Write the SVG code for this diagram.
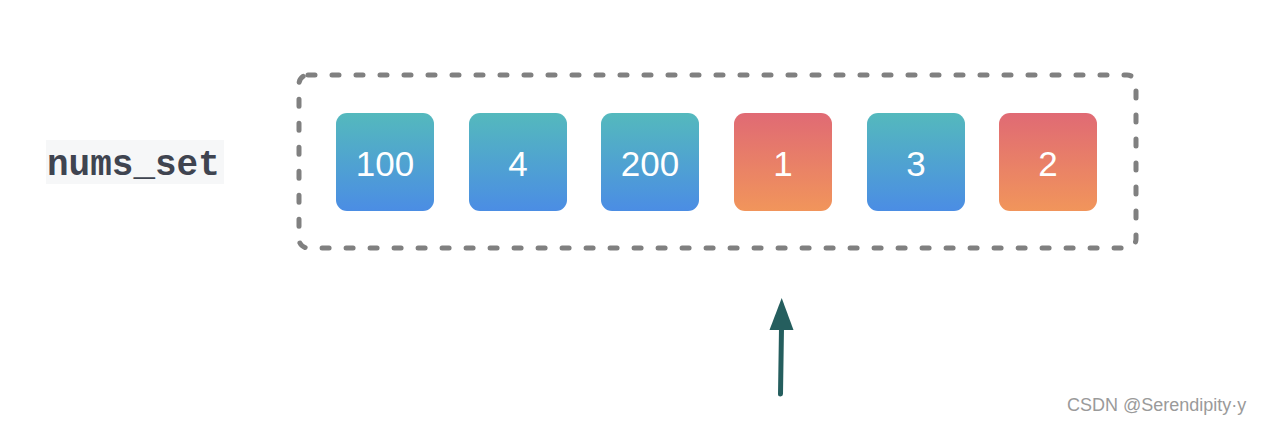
<svg xmlns="http://www.w3.org/2000/svg" width="1264" height="424" viewBox="0 0 1264 424">
<style>
.cell text{font-family:"Liberation Sans",Arial,sans-serif;font-size:35px;fill:#fff;text-anchor:middle}
.frame{fill:none;stroke:#808080;stroke-width:5;stroke-dasharray:7 17;stroke-linecap:round}
.label{font-family:"Liberation Mono","Courier New",monospace;font-size:36px;font-weight:bold;fill:#3f4450}
.wm{font-family:"Liberation Sans",Arial,sans-serif;font-size:18px;fill:#9a9a9a}
</style>
<defs>
<linearGradient id="gBlue" x1="0" y1="0" x2="0" y2="1">
<stop offset="0" stop-color="#54b9bd"/>
<stop offset="1" stop-color="#4b8de4"/>
</linearGradient>
<linearGradient id="gRed" x1="0" y1="0" x2="0" y2="1">
<stop offset="0" stop-color="#e06a74"/>
<stop offset="1" stop-color="#f1955b"/>
</linearGradient>
</defs>
<rect width="1264" height="424" fill="#fff"/>
<g id="label">
<rect x="46" y="140" width="178" height="44" fill="#f6f7f8"/>
<text class="label" x="47" y="175">nums_set</text>
</g>
<g id="frame">
<rect class="frame" x="299" y="75" width="837" height="173" rx="9"/>
</g>
<g id="n100" class="cell"><rect x="336" y="113" width="98" height="98" rx="11" fill="url(#gBlue)"/><text x="385" y="176">100</text></g>
<g id="n4" class="cell"><rect x="469" y="113" width="98" height="98" rx="11" fill="url(#gBlue)"/><text x="518" y="176">4</text></g>
<g id="n200" class="cell"><rect x="601" y="113" width="98" height="98" rx="11" fill="url(#gBlue)"/><text x="650" y="176">200</text></g>
<g id="n1" class="cell"><rect x="734" y="113" width="98" height="98" rx="11" fill="url(#gRed)"/><text x="783" y="176">1</text></g>
<g id="n3" class="cell"><rect x="867" y="113" width="98" height="98" rx="11" fill="url(#gBlue)"/><text x="916" y="176">3</text></g>
<g id="n2" class="cell"><rect x="999" y="113" width="98" height="98" rx="11" fill="url(#gRed)"/><text x="1048" y="176">2</text></g>
<g id="connectors">
<line x1="780.5" y1="394" x2="781.5" y2="328" stroke="#255e5e" stroke-width="5" stroke-linecap="round"/>
<polygon points="781.7,298 793.5,330 769.5,330" fill="#255e5e"/>
</g>
<text class="wm" x="1067" y="411">CSDN @Serendipity·y</text>
</svg>
